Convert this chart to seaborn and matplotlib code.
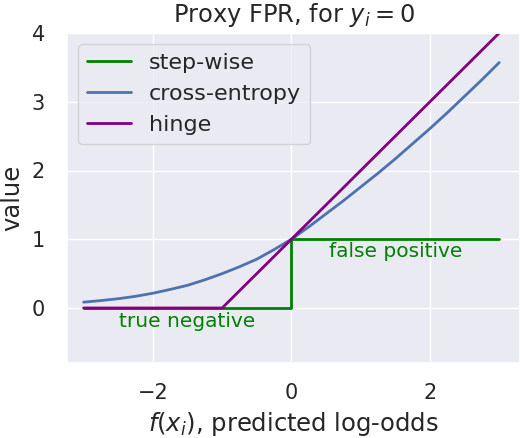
import numpy as np
import pandas as pd
import seaborn as sns
import matplotlib
matplotlib.use("Agg")
import matplotlib.pyplot as plt

# values
step_x = [-3, 0, 0, 3]
step_y = [0, 0, 1, 1]

ce_x = [-3.0, -2.75, -2.5, -2.25, -2.0, -1.75, -1.5, -1.25, -1.0, -0.75, -0.5, -0.25, 0.0,
        0.25, 0.5, 0.75, 1.0, 1.25, 1.5, 1.75, 2.0, 2.25, 2.5, 2.75, 3.0]
ce_y = [0.085, 0.108, 0.135, 0.17, 0.215, 0.27, 0.33, 0.41, 0.50, 0.60, 0.71, 0.85, 1.0,
        1.18, 1.37, 1.56, 1.76, 1.96, 2.17, 2.39, 2.61, 2.84, 3.08, 3.32, 3.57]

hinge_x = [-3, -1, 3]
hinge_y = [0, 0, 4]

sns.set_theme(style="darkgrid")
plt.rcParams['font.family'] = ['DejaVu Sans']

fig = plt.figure(figsize=(5.2, 4.38), dpi=100)
ax = fig.add_axes([67 / 520, 75 / 438, 453 / 520, 330 / 438])

sns.lineplot(x=step_x, y=step_y, ax=ax, color="green", linewidth=2,
             sort=False, estimator=None, label="step-wise")
sns.lineplot(x=ce_x, y=ce_y, ax=ax, color=sns.color_palette("deep")[0], linewidth=2,
             sort=False, estimator=None, label="cross-entropy")
sns.lineplot(x=hinge_x, y=hinge_y, ax=ax, color="purple", linewidth=2,
             sort=False, estimator=None, label="hinge")

ax.text(1.5, 0.82, "false positive", color="green", fontsize=14.5, ha="center", va="center")
ax.text(-1.5, -0.2, "true negative", color="green", fontsize=14.5, ha="center", va="center")

ax.set_xlim(-3.24, 3.3)
ax.set_ylim(-0.8, 4.0)
ax.set_xticks([-2, 0, 2])
ax.set_yticks([0, 1, 2, 3, 4])
ax.tick_params(axis="x", labelsize=15, pad=8.5)
ax.tick_params(axis="y", labelsize=15, pad=10)
ax.set_xlabel("$f(x_i)$, predicted log-odds", fontsize=17.5, labelpad=5)
ax.set_ylabel("value", fontsize=17.5, labelpad=5)
ax.set_title("Proxy FPR, for $y_i = 0$", fontsize=17.4, pad=8)
ax.legend(loc="upper left", fontsize=16)

fig.savefig("out.png", dpi=100)
